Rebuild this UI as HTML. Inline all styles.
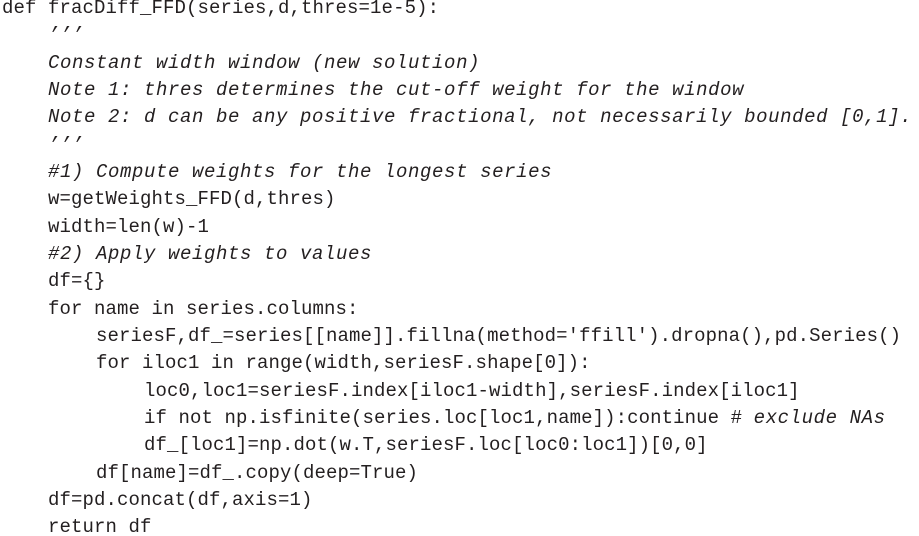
<!DOCTYPE html>
<html><head><meta charset="utf-8"><style>
html,body{margin:0;padding:0;background:#fff;width:919px;height:536px;overflow:hidden}
svg{display:block}
text{font-family:"Liberation Mono",monospace;font-size:19px;fill:#231f20;white-space:pre}
.u{letter-spacing:0.1px}
.i{font-style:italic;letter-spacing:0.6px}
</style></head><body>
<svg width="919" height="536" xmlns="http://www.w3.org/2000/svg" xml:space="preserve">
<text class="u" x="2" y="13">def fracDiff_FFD(series,d,thres=1e-5):</text>
<text class="i" x="48" y="40">’’’</text>
<text class="i" x="48" y="68">Constant width window (new solution)</text>
<text class="i" x="48" y="95">Note 1: thres determines the cut-off weight for the window</text>
<text class="i" x="48" y="122">Note 2: d can be any positive fractional, not necessarily bounded [0,1].</text>
<text class="i" x="48" y="150">’’’</text>
<text class="i" x="48" y="177">#1) Compute weights for the longest series</text>
<text class="u" x="48" y="204">w=getWeights_FFD(d,thres)</text>
<text class="u" x="48" y="232">width=len(w)-1</text>
<text class="i" x="48" y="259">#2) Apply weights to values</text>
<text class="u" x="48" y="286">df={}</text>
<text class="u" x="48" y="314">for name in series.columns:</text>
<text class="u" x="96" y="341">seriesF,df_=series[[name]].fillna(method='ffill').dropna(),pd.Series()</text>
<text class="u" x="96" y="368">for iloc1 in range(width,seriesF.shape[0]):</text>
<text class="u" x="144" y="396">loc0,loc1=seriesF.index[iloc1-width],seriesF.index[iloc1]</text>
<text x="144" y="423"><tspan class="u">if not np.isfinite(series.loc[loc1,name]):continue # </tspan><tspan class="i">exclude NAs</tspan></text>
<text class="u" x="144" y="450">df_[loc1]=np.dot(w.T,seriesF.loc[loc0:loc1])[0,0]</text>
<text class="u" x="96" y="478">df[name]=df_.copy(deep=True)</text>
<text class="u" x="48" y="505">df=pd.concat(df,axis=1)</text>
<text class="u" x="48" y="532">return df</text>
</svg>
</body></html>
